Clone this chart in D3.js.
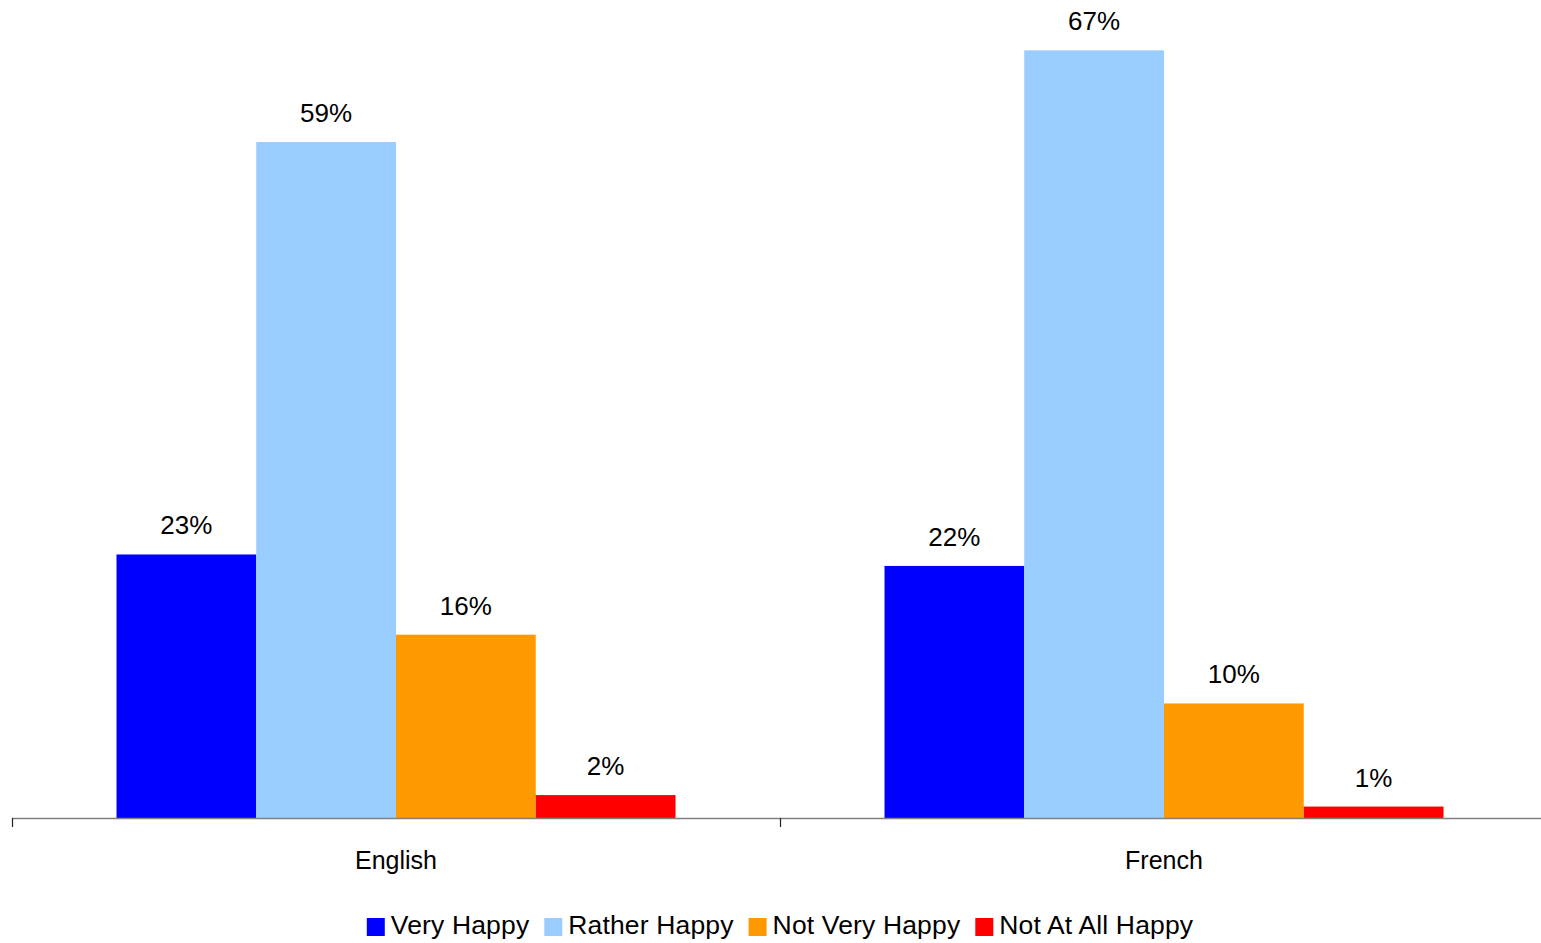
<!DOCTYPE html>
<html>
<head>
<meta charset="utf-8">
<script src="https://cdn.jsdelivr.net/npm/d3@7"></script>
<style>
  html, body { margin: 0; padding: 0; background: #fff; }
  svg { display: block; font-family: "Liberation Sans", Arial, Helvetica, sans-serif; }
</style>
</head>
<body>
<svg id="chart" width="1541" height="943"></svg>
<script>
// Survey responses: share of respondents by happiness level, per language group
const categories = ["English", "French"];
const seriesNames = ["Very Happy", "Rather Happy", "Not Very Happy", "Not At All Happy"];
const seriesColors = ["#0000FF", "#99CCFF", "#FF9900", "#FF0000"];
const englishValues = [23, 59, 16, 2];
const frenchValues = [22, 67, 10, 1];
const valuesByCategory = [englishValues, frenchValues];

const svg = d3.select("#chart");
const plot = { left: 12, right: 1548, top: 16, bottom: 818 };

const x0 = d3.scaleBand().domain(categories).range([plot.left, plot.right]).padding(0);
const groupFrac = 559 / 768;
const x1 = d3.scaleBand().domain(seriesNames)
  .range([x0.bandwidth() * (1 - groupFrac) / 2, x0.bandwidth() * (1 + groupFrac) / 2])
  .padding(0);
const y = d3.scaleLinear().domain([0, 70]).range([plot.bottom, plot.top]);

const rows = categories.map((c, i) => ({
  category: c,
  values: seriesNames.map((s, j) => ({ series: s, value: valuesByCategory[i][j], color: seriesColors[j] }))
}));

const groups = svg.append("g").selectAll("g")
  .data(rows).join("g")
  .attr("transform", d => `translate(${x0(d.category)},0)`);

groups.selectAll("rect")
  .data(d => d.values).join("rect")
  .attr("x", d => x1(d.series))
  .attr("y", d => y(d.value))
  .attr("width", x1.bandwidth())
  .attr("height", d => y(0) - y(d.value))
  .attr("fill", d => d.color);

groups.selectAll("text.value")
  .data(d => d.values).join("text")
  .attr("class", "value")
  .attr("x", d => x1(d.series) + x1.bandwidth() / 2)
  .attr("y", d => y(d.value) - 20)
  .attr("text-anchor", "middle")
  .attr("font-size", 26)
  .attr("fill", "#000")
  .text(d => d.value + "%");

// Category axis: baseline with tick marks at band boundaries
const axis = svg.append("g");
axis.append("line")
  .attr("x1", plot.left).attr("x2", plot.right)
  .attr("y1", y(0) + 0.5).attr("y2", y(0) + 0.5)
  .attr("stroke", "#808080").attr("stroke-width", 1.5);
const tickPositions = categories.map(c => x0(c)).concat([x0(categories[categories.length - 1]) + x0.bandwidth()]);
axis.selectAll("line.tick")
  .data(tickPositions).join("line")
  .attr("class", "tick")
  .attr("x1", d => d + 0.5).attr("x2", d => d + 0.5)
  .attr("y1", y(0)).attr("y2", y(0) + 9)
  .attr("stroke", "#222").attr("stroke-width", 1.2);
axis.selectAll("text")
  .data(categories).join("text")
  .attr("x", d => x0(d) + x0.bandwidth() / 2)
  .attr("y", 869)
  .attr("text-anchor", "middle")
  .attr("font-size", 25)
  .attr("fill", "#000")
  .text(d => d);

// Legend centred under the plot
const legend = svg.append("g");
const sw = 18, gapSwatch = 6, gapItem = 15, legendY = 934;
const items = legend.selectAll("g").data(seriesNames).join("g");
items.append("rect")
  .attr("width", sw).attr("height", sw)
  .attr("y", legendY - 16)
  .attr("fill", (d, i) => seriesColors[i]);
items.append("text")
  .attr("x", sw + gapSwatch)
  .attr("y", legendY)
  .attr("font-size", 26.5)
  .attr("letter-spacing", 0.15)
  .attr("fill", "#000")
  .text(d => d);
let cursor = 0;
const offsets = [];
items.each(function () {
  offsets.push(cursor);
  const tw = d3.select(this).select("text").node().getComputedTextLength();
  cursor += sw + gapSwatch + tw + gapItem;
});
const total = cursor - gapItem;
const startX = 780 - total / 2;
items.attr("transform", (d, i) => `translate(${startX + offsets[i]},0)`);
</script>
</body>
</html>
